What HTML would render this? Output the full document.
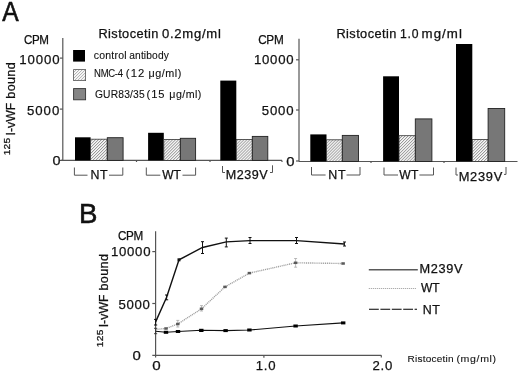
<!DOCTYPE html>
<html><head><meta charset="utf-8">
<style>
html,body{margin:0;padding:0;background:#fff;}
svg{display:block;filter:grayscale(1) blur(0.25px);}
text{font-family:"Liberation Sans",sans-serif;fill:#111;stroke:#111;stroke-width:0.25px;}
text.lt{stroke-width:0.1px;}
text.big{stroke-width:0.6px;}
</style></head>
<body>
<svg width="520" height="372" viewBox="0 0 520 372">
<defs>
<pattern id="h" patternUnits="userSpaceOnUse" width="2.1" height="4" patternTransform="rotate(45)">
<rect width="2.1" height="4" fill="#fafafa"/>
<rect width="0.85" height="4" fill="#959595"/>
</pattern>
<pattern id="h2" patternUnits="userSpaceOnUse" width="2.1" height="4" patternTransform="rotate(45)">
<rect width="2.1" height="4" fill="#fcfcfc"/>
<rect width="0.8" height="4" fill="#b0b0b0"/>
</pattern>
</defs>
<rect width="520" height="372" fill="#fff"/>

<!-- left chart axes -->
<g stroke="#555" stroke-width="1.2" fill="none">
<line x1="62.8" y1="38" x2="62.8" y2="160.4"/>
<line x1="59.8" y1="58.1" x2="62.8" y2="58.1"/>
<line x1="59.8" y1="109.1" x2="62.8" y2="109.1"/>
<line x1="59.8" y1="160.4" x2="62.8" y2="160.4"/>
<line x1="61" y1="160.4" x2="282" y2="160.4"/>
<line x1="136.5" y1="160.4" x2="136.5" y2="162"/>
<line x1="210" y1="160.4" x2="210" y2="162"/>
<line x1="282" y1="160.4" x2="282" y2="162"/>
</g>

<!-- legend A -->
<rect x="73.1" y="50" width="11.9" height="11.6" fill="#000"/>
<rect x="73.6" y="69.6" width="12" height="11" fill="url(#h2)" stroke="#555" stroke-width="0.8"/>
<rect x="73.6" y="88.6" width="12" height="11.2" fill="#858585" stroke="#333" stroke-width="0.9"/>

<!-- bars left -->
<g>
<rect x="75" y="137.3" width="15.6" height="23.1" fill="#000"/>
<rect x="90.6" y="139.2" width="16.6" height="21.2" fill="url(#h)" stroke="#333" stroke-width="0.8"/>
<rect x="107.3" y="137.7" width="15.8" height="22.7" fill="#777777" stroke="#222" stroke-width="0.9"/>

<rect x="148.1" y="132.8" width="15.7" height="27.6" fill="#000"/>
<rect x="163.8" y="139.4" width="16.5" height="21.0" fill="url(#h)" stroke="#333" stroke-width="0.8"/>
<rect x="180.3" y="138.3" width="15.3" height="22.1" fill="#777777" stroke="#222" stroke-width="0.9"/>

<rect x="220.3" y="80.6" width="16" height="79.8" fill="#000"/>
<rect x="236.3" y="139.4" width="16" height="21.0" fill="url(#h)" stroke="#333" stroke-width="0.8"/>
<rect x="252.3" y="136.4" width="15.5" height="24.0" fill="#777777" stroke="#222" stroke-width="0.9"/>
</g>

<!-- brackets left -->
<g stroke="#555" stroke-width="1" fill="none">
<polyline points="74.4,167.5 74.4,175.2 87.5,175.2"/>
<polyline points="109,175.2 122.8,175.2 122.8,167.5"/>
<polyline points="146.3,167.5 146.3,175.2 160.3,175.2"/>
<polyline points="182.5,175.2 195.6,175.2 195.6,167.5"/>
<polyline points="222.5,166 222.5,172.5 225,172.5"/>
<polyline points="270,172.5 272.5,172.5 272.5,165.3"/>
</g>

<!-- right chart axes -->
<g stroke="#555" stroke-width="1.2" fill="none">
<line x1="299" y1="38.8" x2="299" y2="161.5"/>
<line x1="296" y1="59.8" x2="299" y2="59.8"/>
<line x1="296" y1="110" x2="299" y2="110"/>
<line x1="296" y1="161" x2="299" y2="161"/>
<line x1="299" y1="161.5" x2="517.5" y2="161.5"/>
<line x1="371" y1="161.5" x2="371" y2="163"/>
<line x1="444" y1="161.5" x2="444" y2="163"/>
</g>

<!-- bars right -->
<g>
<rect x="310.3" y="134.4" width="16.2" height="27.1" fill="#000"/>
<rect x="326.5" y="139.8" width="15.8" height="21.7" fill="url(#h)" stroke="#333" stroke-width="0.8"/>
<rect x="342.3" y="135.4" width="16.2" height="26.1" fill="#777777" stroke="#222" stroke-width="0.9"/>

<rect x="383.1" y="76.3" width="15.9" height="85.2" fill="#000"/>
<rect x="399" y="135.7" width="16.3" height="25.8" fill="url(#h)" stroke="#333" stroke-width="0.8"/>
<rect x="415.3" y="118.9" width="16.6" height="42.6" fill="#777777" stroke="#222" stroke-width="0.9"/>

<rect x="456" y="44" width="16.3" height="117.5" fill="#000"/>
<rect x="472.3" y="139.4" width="15.8" height="22.1" fill="url(#h)" stroke="#333" stroke-width="0.8"/>
<rect x="488.1" y="108.5" width="16.6" height="53.0" fill="#777777" stroke="#222" stroke-width="0.9"/>
</g>

<!-- brackets right -->
<g stroke="#555" stroke-width="1" fill="none">
<polyline points="311.5,167 311.5,175 325.6,175"/>
<polyline points="346.5,175 360,175 360,167"/>
<polyline points="384,167.5 384,175 398,175"/>
<polyline points="419.4,175 433.5,175 433.5,167.5"/>
<polyline points="456,167.5 456,175 458,175"/>
<polyline points="504,174.4 506,174.4 506,167"/>
</g>

<!-- Panel B axes -->
<g stroke="#555" stroke-width="1.2" fill="none">
<line x1="155.6" y1="231.3" x2="155.6" y2="357.5"/>
<line x1="152.3" y1="251.6" x2="155.6" y2="251.6"/>
<line x1="152.3" y1="303.5" x2="155.6" y2="303.5"/>
<line x1="152.3" y1="355.3" x2="381.3" y2="355.3"/>
<line x1="263.9" y1="355.3" x2="263.9" y2="357.7"/>
<line x1="381.3" y1="355.3" x2="381.3" y2="357.5"/>
</g>

<!-- curves -->
<!-- WT dotted -->
<polyline fill="none" stroke="#a0a0a0" stroke-width="1.4" stroke-dasharray="1.1,0.8" points="155.6,329.4 166,328.5 177.8,324 201.5,308.8 225,286.9 249.4,273.1 295.6,262.8 343.1,263.5"/>
<g stroke="#aaa" stroke-width="0.8" fill="none">
<path d="M177.8,320.4V327M176.3,320.4H179.3M176.3,327H179.3"/>
<path d="M201.5,305.6V311M200,305.6H203M200,311H203"/>
<path d="M295.6,258.5V267.2M294.1,258.5H297.1M294.1,267.2H297.1"/>
</g>
<g fill="#5a5a5a">
<rect x="164.25" y="327.25" width="3.5" height="2.5"/>
<rect x="176.05" y="322.75" width="3.5" height="2.5"/>
<rect x="199.75" y="307.55" width="3.5" height="2.5"/>
<rect x="223.25" y="285.65" width="3.5" height="2.5"/>
<rect x="247.65" y="271.85" width="3.5" height="2.5"/>
<rect x="293.85" y="261.55" width="3.5" height="2.5"/>
<rect x="341.35" y="262.25" width="3.5" height="2.5"/>
</g>
<!-- NT -->
<polyline fill="none" stroke="#111" stroke-width="1.1" points="155.6,331.3 166,332.3 178,331.5 201.3,330.3 225.6,330.6 249.4,330 295.6,326 343.2,322.9"/>
<g fill="#000">
<rect x="163.8" y="330.8" width="4.4" height="3"/>
<rect x="175.8" y="330" width="4.4" height="3"/>
<rect x="199.1" y="328.8" width="4.4" height="3.2"/>
<rect x="223.4" y="329.1" width="4.4" height="3"/>
<rect x="247.2" y="328.5" width="4.4" height="3"/>
<rect x="293.4" y="324.5" width="4.4" height="3"/>
<rect x="341" y="321.4" width="4.4" height="3"/>
</g>
<!-- M239V -->
<polyline fill="none" stroke="#111" stroke-width="1.4" points="155.6,321.9 166.6,297.3 179,259.8 202.5,247.5 226.3,241.9 250,240.6 296.5,240.6 344.4,244"/>
<g stroke="#111" stroke-width="1" fill="none">
<path d="M155.6,319.4V325M154,319.4H157.2M154,325H157.2"/>
<path d="M166.6,295V299.8M165,295H168.2M165,299.8H168.2"/>
<path d="M202.5,241.7V253.5M201,241.7H204M201,253.5H204"/>
<path d="M226.3,238.1V246.9M224.8,238.1H227.8M224.8,246.9H227.8"/>
<path d="M250,237.5V243.5M248.5,237.5H251.5M248.5,243.5H251.5"/>
<path d="M296.5,237.5V243.5M295,237.5H298M295,243.5H298"/>
<path d="M344.4,242V246M343,242H346M343,246H346"/>
</g>
<rect x="177.5" y="258.3" width="3" height="3" fill="#111"/>
<path d="M155.6,328.3V333.7M154,328.3H157.2M154,333.7H157.2" stroke="#333" stroke-width="0.9" fill="none"/>

<!-- legend B -->
<line x1="368.8" y1="269.8" x2="417.8" y2="269.8" stroke="#5a5a5a" stroke-width="1.5"/>
<line x1="368.8" y1="288.5" x2="416.3" y2="288.5" stroke="#999" stroke-width="1.1" stroke-dasharray="1,1"/>
<line x1="369" y1="309.3" x2="417" y2="309.3" stroke="#000" stroke-width="1.1" stroke-dasharray="9.8,1.6"/>

<!-- texts -->
<text x="2.25" y="20.60" font-size="27.18" textLength="16.40" lengthAdjust="spacingAndGlyphs" class="big">A</text>
<text x="98.45" y="37.50" font-size="12" style="letter-spacing:0.393px" textLength="60.30" lengthAdjust="spacingAndGlyphs">Ristocetin</text>
<text x="161.99" y="37.50" font-size="12" style="letter-spacing:0.673px" textLength="59.62" lengthAdjust="spacingAndGlyphs">0.2mg/ml</text>
<text x="336.45" y="38.10" font-size="12" style="letter-spacing:0.393px" textLength="60.30" lengthAdjust="spacingAndGlyphs">Ristocetin</text>
<text x="400.07" y="38.10" font-size="12" style="letter-spacing:0.723px" textLength="19.14" lengthAdjust="spacingAndGlyphs">1.0</text>
<text x="421.62" y="38.10" font-size="12" style="letter-spacing:0.929px" textLength="41.30" lengthAdjust="spacingAndGlyphs">mg/ml</text>
<text x="24.01" y="44.40" font-size="12" style="letter-spacing:-0.418px" textLength="24.54" lengthAdjust="spacingAndGlyphs">CPM</text>
<text x="19.24" y="63.75" font-size="13" style="letter-spacing:0.871px" textLength="41.16" lengthAdjust="spacingAndGlyphs">10000</text>
<text x="26.97" y="114.75" font-size="13" style="letter-spacing:0.952px" textLength="33.26" lengthAdjust="spacingAndGlyphs">5000</text>
<text x="52.54" y="165.25" font-size="13" textLength="8.03" lengthAdjust="spacingAndGlyphs">0</text>
<text x="93.65" y="59.00" font-size="10.0" style="letter-spacing:0.248px" textLength="33.31" lengthAdjust="spacingAndGlyphs" class="lt">control</text>
<text x="129.27" y="59.00" font-size="10.0" style="letter-spacing:0.124px" textLength="39.68" lengthAdjust="spacingAndGlyphs" class="lt">antibody</text>
<text x="94.12" y="77.25" font-size="10.0" style="letter-spacing:-0.344px" textLength="28.53" lengthAdjust="spacingAndGlyphs" class="lt">NMC-4</text>
<text x="125.80" y="77.25" font-size="10.0" style="letter-spacing:0.992px" textLength="19.69" lengthAdjust="spacingAndGlyphs" class="lt">(12</text>
<text x="148.57" y="77.25" font-size="10.0" style="letter-spacing:0.471px" textLength="33.31" lengthAdjust="spacingAndGlyphs" class="lt">μg/ml)</text>
<text x="94.98" y="97.50" font-size="10.0" style="letter-spacing:0.170px" textLength="49.82" lengthAdjust="spacingAndGlyphs" class="lt">GUR83/35</text>
<text x="146.41" y="97.50" font-size="10.0" style="letter-spacing:0.897px" textLength="19.17" lengthAdjust="spacingAndGlyphs" class="lt">(15</text>
<text x="169.38" y="97.50" font-size="10.0" style="letter-spacing:0.381px" textLength="32.29" lengthAdjust="spacingAndGlyphs" class="lt">μg/ml)</text>
<text x="90.48" y="179.40" font-size="12" style="letter-spacing:0.507px" textLength="17.58" lengthAdjust="spacingAndGlyphs">NT</text>
<text x="162.20" y="179.40" font-size="12" style="letter-spacing:0.011px" textLength="18.69" lengthAdjust="spacingAndGlyphs">WT</text>
<text x="225.87" y="178.75" font-size="12" style="letter-spacing:0.452px" textLength="42.16" lengthAdjust="spacingAndGlyphs">M239V</text>
<text x="258.15" y="44.40" font-size="12" style="letter-spacing:-0.268px" textLength="25.30" lengthAdjust="spacingAndGlyphs">CPM</text>
<text x="254.00" y="64.40" font-size="13" style="letter-spacing:0.711px" textLength="40.24" lengthAdjust="spacingAndGlyphs">10000</text>
<text x="261.72" y="115.00" font-size="13" style="letter-spacing:0.838px" textLength="32.74" lengthAdjust="spacingAndGlyphs">5000</text>
<text x="286.32" y="165.60" font-size="13" textLength="8.26" lengthAdjust="spacingAndGlyphs">0</text>
<text x="328.38" y="179.40" font-size="12" style="letter-spacing:0.557px" textLength="17.73" lengthAdjust="spacingAndGlyphs">NT</text>
<text x="399.35" y="179.40" font-size="12" style="letter-spacing:0.186px" textLength="19.22" lengthAdjust="spacingAndGlyphs">WT</text>
<text x="458.70" y="181.00" font-size="12" style="letter-spacing:0.689px" textLength="44.35" lengthAdjust="spacingAndGlyphs">M239V</text>
<text x="79.03" y="223.10" font-size="27.18" textLength="18.42" lengthAdjust="spacingAndGlyphs" class="big">B</text>
<text x="117.91" y="240.25" font-size="12" style="letter-spacing:-0.331px" textLength="24.98" lengthAdjust="spacingAndGlyphs">CPM</text>
<text x="110.90" y="256.00" font-size="13" style="letter-spacing:0.733px" textLength="40.36" lengthAdjust="spacingAndGlyphs">10000</text>
<text x="118.47" y="309.00" font-size="13" style="letter-spacing:0.711px" textLength="32.16" lengthAdjust="spacingAndGlyphs">5000</text>
<text x="132.52" y="360.25" font-size="13" textLength="8.32" lengthAdjust="spacingAndGlyphs">0</text>
<text x="152.16" y="370.00" font-size="13" textLength="8.43" lengthAdjust="spacingAndGlyphs">0</text>
<text x="255.80" y="370.00" font-size="13" style="letter-spacing:0.691px" textLength="20.42" lengthAdjust="spacingAndGlyphs">1.0</text>
<text x="372.44" y="370.40" font-size="13" style="letter-spacing:0.803px" textLength="20.79" lengthAdjust="spacingAndGlyphs">2.0</text>
<text x="407.48" y="361.90" font-size="9.6" style="letter-spacing:0.214px" textLength="46.30" lengthAdjust="spacingAndGlyphs" class="lt">Ristocetin</text>
<text x="456.44" y="361.90" font-size="9.6" style="letter-spacing:0.589px" textLength="40.36" lengthAdjust="spacingAndGlyphs" class="lt">(mg/ml)</text>
<text x="419.55" y="272.75" font-size="12" style="letter-spacing:0.614px" textLength="43.65" lengthAdjust="spacingAndGlyphs">M239V</text>
<text x="420.95" y="291.90" font-size="12" style="letter-spacing:0.036px" textLength="18.76" lengthAdjust="spacingAndGlyphs">WT</text>
<text x="422.73" y="313.70" font-size="12" style="letter-spacing:0.557px" textLength="17.73" lengthAdjust="spacingAndGlyphs">NT</text>
<g transform="translate(14.5,154.6) rotate(-90)">
<text x="-0.77" y="-4.65" font-size="9.8" style="letter-spacing:0.277px" textLength="17.79" lengthAdjust="spacingAndGlyphs">125</text>
<text x="19.07" y="0.00" font-size="12.1" style="letter-spacing:0.069px" textLength="32.88" lengthAdjust="spacingAndGlyphs">I-vWF</text>
<text x="55.89" y="0.00" font-size="12.1" style="letter-spacing:0.339px" textLength="36.78" lengthAdjust="spacingAndGlyphs">bound</text>
</g>
<g transform="translate(107.8,346.4) rotate(-90)">
<text x="-0.77" y="-4.65" font-size="9.8" style="letter-spacing:0.277px" textLength="17.79" lengthAdjust="spacingAndGlyphs">125</text>
<text x="19.07" y="0.00" font-size="12.1" style="letter-spacing:0.069px" textLength="32.88" lengthAdjust="spacingAndGlyphs">I-vWF</text>
<text x="55.89" y="0.00" font-size="12.1" style="letter-spacing:0.339px" textLength="36.78" lengthAdjust="spacingAndGlyphs">bound</text>
</g>
</svg>
</body></html>
